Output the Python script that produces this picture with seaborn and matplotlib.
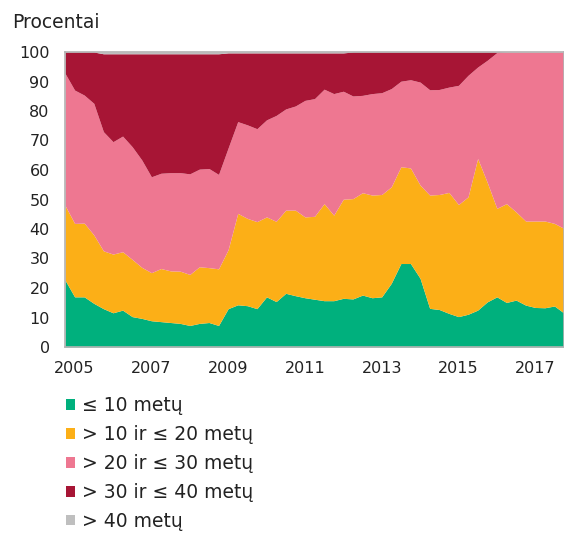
import matplotlib
matplotlib.use("Agg")
import matplotlib.pyplot as plt
from matplotlib.patches import Patch
import numpy as np
import seaborn as sns

# quarterly shares, 2004 Q4 .. 2017 Q4 (percent)
quarters = [2004.75 + 0.25 * i for i in range(53)]

upto_10 = [22.7, 17.0, 17.0, 14.8, 13.0, 11.6, 12.5, 10.3, 9.7, 8.9, 8.6, 8.3, 8.0, 7.3,
           8.0, 8.3, 7.3, 13.0, 14.3, 14.0, 13.0, 17.0, 15.4, 18.2, 17.4, 16.7, 16.2,
           15.7, 15.7, 16.5, 16.3, 17.6, 16.7, 17.0, 21.6, 28.3, 28.3, 23.3, 13.1, 12.7,
           11.4, 10.3, 11.1, 12.5, 15.3, 17.0, 15.1, 15.9, 14.2, 13.4, 13.3, 13.9, 11.5]
from_10_to_20 = [25.3, 24.9, 25.0, 23.2, 19.6, 19.9, 19.8, 19.4, 17.3, 16.3, 18.0, 17.5,
                 17.7, 17.3, 19.2, 18.6, 19.2, 20.0, 31.0, 29.6, 29.5, 27.1, 27.2, 28.2,
                 29.0, 27.4, 28.1, 32.9, 29.0, 33.6, 34.0, 34.7, 34.8, 34.7, 32.7, 32.8,
                 32.4, 31.6, 38.4, 39.0, 41.0, 38.0, 39.8, 51.4, 40.5, 30.0, 33.5, 29.9,
                 28.5, 29.3, 29.4, 28.0, 28.7]
from_20_to_30 = [44.8, 45.2, 43.4, 44.6, 40.4, 38.1, 39.2, 38.2, 36.4, 32.5, 32.3, 33.3,
                 33.4, 34.1, 33.1, 33.6, 32.0, 34.5, 31.1, 31.7, 31.5, 32.9, 35.9, 34.3,
                 35.3, 39.5, 39.9, 38.8, 41.2, 36.6, 34.8, 33.0, 34.4, 34.5, 33.3, 29.0,
                 29.9, 34.9, 35.7, 35.6, 35.7, 40.4, 41.2, 31.0, 41.4, 52.8, 51.4, 54.2,
                 57.3, 57.3, 57.3, 58.1, 59.8]
from_30_to_40 = [7.2, 12.9, 14.6, 17.4, 26.4, 29.8, 27.9, 31.5, 36.0, 41.7, 40.5, 40.3,
                 40.3, 40.7, 39.1, 38.9, 40.9, 32.2, 23.3, 24.4, 25.7, 22.7, 21.2, 19.0,
                 18.0, 16.1, 15.5, 12.3, 13.8, 13.0, 14.9, 14.7, 14.1, 13.8, 12.4, 9.9,
                 9.4, 10.2, 12.8, 12.7, 11.9, 11.3, 7.9, 5.1, 2.8, 0.2, 0, 0, 0, 0, 0, 0, 0]
over_40 = [0, 0, 0, 0] + [0.6] * 13 + [0.3] * 13 + [0] * 23

labels = ["≤ 10 metų", "> 10 ir ≤ 20 metų", "> 20 ir ≤ 30 metų",
          "> 30 ir ≤ 40 metų", "> 40 metų"]
colors = sns.color_palette(["#00B07D", "#FCAF17", "#EE7791", "#A71535", "#BFBFBF"])

sns.set_style("white")
plt.rcParams["font.family"] = ["DejaVu Sans"]

fig = plt.figure(figsize=(5.64, 5.34), dpi=100)
ax = fig.add_axes([65 / 564, 1 - 347 / 534, 1 - 65 / 564, 295 / 534])

series = [upto_10, from_10_to_20, from_20_to_30, from_30_to_40, over_40]
ax.stackplot(quarters, *[np.array(s) for s in series], colors=colors, linewidth=0)

ax.set_xlim(quarters[0], quarters[-1])
ax.set_ylim(0, 100)
ax.set_yticks(range(0, 101, 10))
ax.set_xticks([2005, 2007, 2009, 2011, 2013, 2015, 2017])
ax.set_xticklabels(["2005", "2007", "2009", "2011", "2013", "2015", "2017"])
ax.tick_params(axis="both", length=0, labelsize=11.5, colors="#222222")
ax.tick_params(axis="y", pad=11)
ax.tick_params(axis="x", pad=10)
for side in ax.spines.values():
    side.set_color("#b3b3b3")
    side.set_linewidth(1.2)
ax.set_xlabel("")
ax.set_ylabel("")

fig.text(12 / 564, 1 - 22 / 534, "Procentai", fontsize=13.5, color="#222222",
         ha="left", va="center")

handles = [Patch(facecolor=c, edgecolor="none") for c in colors]
fig.legend(handles, labels, loc="upper left", bbox_to_anchor=(66 / 564, 1 - 396 / 534),
           frameon=False, fontsize=13.5, handlelength=0.5, handleheight=0.5,
           handletextpad=0.35, labelspacing=0.53, borderaxespad=0, borderpad=0,
           labelcolor="#222222")

fig.savefig("out.png", dpi=100)
